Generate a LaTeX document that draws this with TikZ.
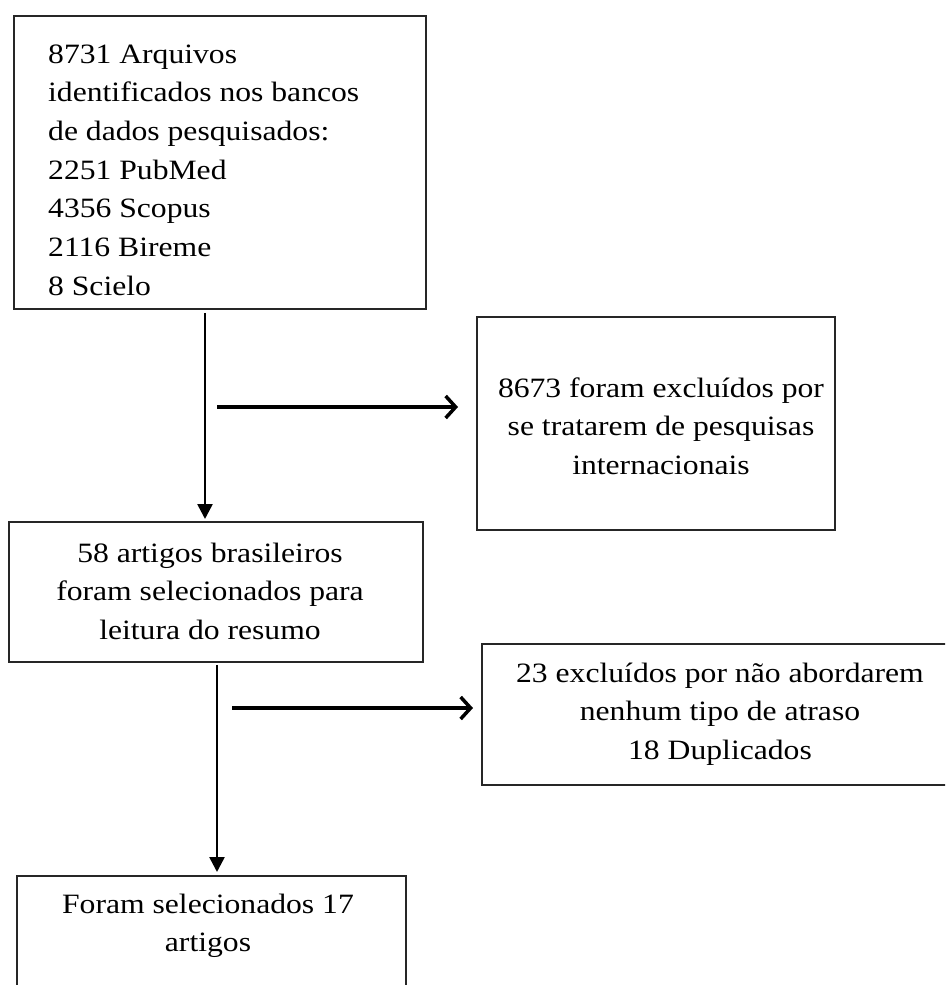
\documentclass[tikz,border=0pt]{standalone}
\usepackage{fontspec}
\setmainfont{Liberation Serif}[FakeStretch=1.13]
\usetikzlibrary{arrows.meta}
\newcommand\diagfont{\fontsize{28}{38.67}\selectfont}
\begin{document}
\begin{tikzpicture}[x=1pt,y=-1pt,
  box/.style={draw=black!85, line width=1.8pt, inner sep=0pt, anchor=north west},
  txt/.style={inner sep=0pt, anchor=base},
  varrow/.style={line width=2.6pt, -{Triangle[length=15pt,width=15pt]}},
  harrow/.style={line width=3.5pt, -{Straight Barb[length=10pt,width=22pt]}}
]
\useasboundingbox (0,0) rectangle (945,985);
\clip (0,0) rectangle (945,985);

% boxes
\node[box, minimum width=412pt, minimum height=293pt] (b1) at (13,15) {};
\node[box, minimum width=358pt, minimum height=213pt] (b2) at (476,316) {};
\node[box, minimum width=414pt, minimum height=140pt] (b3) at (8,521) {};
\node[box, minimum width=480pt, minimum height=141pt] (b4) at (481,643) {};
\node[box, minimum width=389pt, minimum height=140pt] (b5) at (16,875) {};

% texts
\node[txt, anchor=base west] (t1) at (48,63) {\parbox[t]{370pt}{\raggedright\diagfont
8731 Arquivos\\identificados nos bancos\\de dados pesquisados:\\2251 PubMed\\4356 Scopus\\2116 Bireme\\8 Scielo}};
\node[txt] (t2) at (661,397) {\parbox[t]{360pt}{\centering\diagfont
8673 foram excluídos por\\se tratarem de pesquisas\\internacionais}};
\node[txt] (t3) at (210,562) {\parbox[t]{400pt}{\centering\diagfont
58 artigos brasileiros\\foram selecionados para\\leitura do resumo}};
\node[txt] (t4) at (720,682) {\parbox[t]{450pt}{\centering\diagfont
23 excluídos por não abordarem\\nenhum tipo de atraso\\18 Duplicados}};
\node[txt] (t5) at (208,913) {\parbox[t]{380pt}{\centering\diagfont
Foram selecionados 17\\artigos}};

% connectors
\coordinate (x1) at (205,0);
\coordinate (x2) at (217,0);
\coordinate (h1) at (217,407);
\coordinate (h2) at (232,708);
\draw[varrow] ([yshift=-3pt]b1.south -| x1) -- ([yshift=2pt]b3.north -| x1);
\draw[harrow] (h1) -- ([xshift=-18pt]b2.west |- h1);
\draw[varrow] ([yshift=-2pt]b3.south -| x2) -- ([yshift=3pt]b5.north -| x2);
\draw[harrow] (h2) -- ([xshift=-8pt]b4.west |- h2);
\end{tikzpicture}
\end{document}
